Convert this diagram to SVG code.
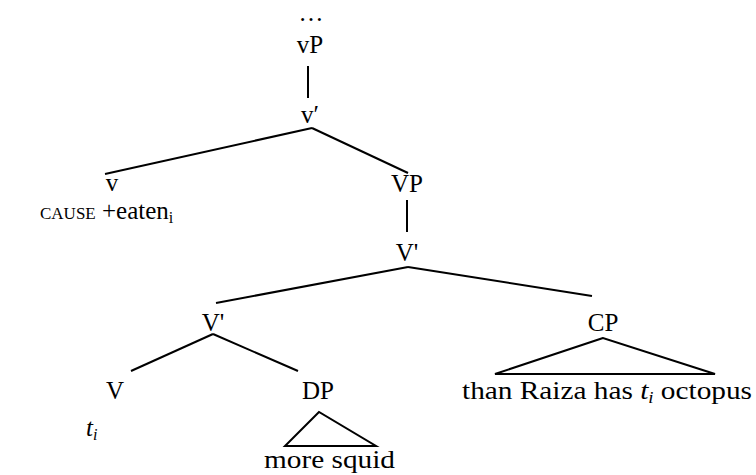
<svg xmlns="http://www.w3.org/2000/svg" width="756" height="475" viewBox="0 0 756 475">
<style>
text{font-family:"Liberation Serif","DejaVu Serif",serif;font-size:25px;fill:#000}
.c{text-anchor:middle}
.sc{font-size:17px}
.it{font-style:italic}
.sub{font-size:16px}
line{stroke:#000;stroke-width:2;fill:none}
polygon{stroke:#000;stroke-width:2;fill:none}
</style>
<rect width="756" height="475" fill="#fff"/>
<g id="connectors">
<line x1="308" y1="66" x2="308" y2="98"/>
<line x1="312" y1="128" x2="105" y2="174"/>
<line x1="312" y1="128" x2="408" y2="173"/>
<line x1="407" y1="200" x2="407" y2="232"/>
<line x1="408" y1="267" x2="216" y2="303"/>
<line x1="408" y1="267" x2="592" y2="296"/>
<line x1="213" y1="334" x2="131" y2="371"/>
<line x1="213" y1="334" x2="298" y2="371"/>
</g>
<g id="top"><text class="c" x="311" y="21">…</text></g>
<g id="vP"><text class="c" x="310" y="53">vP</text></g>
<g id="vbar"><text class="c" x="310" y="123">v′</text></g>
<g id="v"><text class="c" x="112" y="191">v</text>
<text x="40" y="219"><tspan class="sc">CAUSE</tspan> +eaten<tspan class="sub" dy="4">i</tspan></text></g>
<g id="VP"><text class="c" x="407" y="192">VP</text></g>
<g id="Vbar1"><text class="c" x="407" y="261">V'</text></g>
<g id="Vbar2"><text class="c" x="213" y="331">V'</text></g>
<g id="V"><text class="c" x="115" y="399">V</text>
<text class="it" x="86" y="436">t<tspan class="sub" dy="4">i</tspan></text></g>
<g id="DP"><text class="c" x="318" y="399">DP</text>
<polygon points="319,412 285,446 376,446"/>
<text x="264" y="468" textLength="131" lengthAdjust="spacingAndGlyphs">more squid</text></g>
<g id="CP"><text class="c" x="603" y="331">CP</text>
<polygon points="603,338 495,374 715,374"/>
<text x="462" y="399" textLength="290" lengthAdjust="spacingAndGlyphs">than Raiza has <tspan class="it">t</tspan><tspan class="it sub" dy="4">i</tspan><tspan dy="-4"> octopus</tspan></text></g>
</svg>
